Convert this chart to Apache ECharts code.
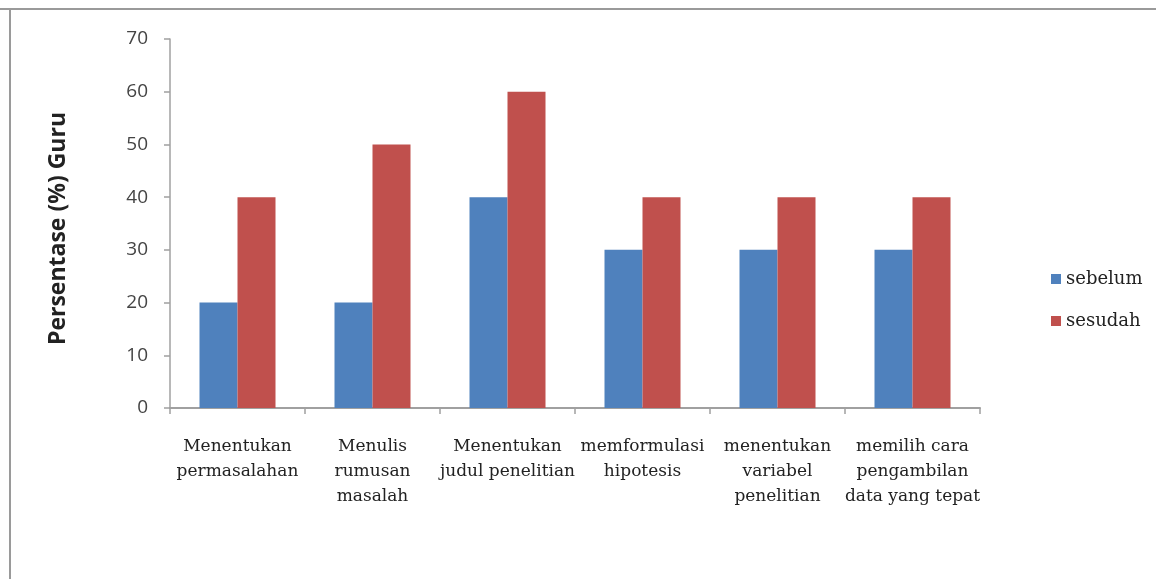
<!DOCTYPE html>
<html>
<head>
<meta charset="utf-8">
<script src="https://cdn.jsdelivr.net/npm/echarts@6/dist/echarts.min.js"></script>
<style>
  html, body { margin: 0; padding: 0; background: #fff; }
  #chart { width: 1156px; height: 579px; }
</style>
</head>
<body>
<div id="chart"></div>
<script>
// Tahapan kemampuan guru dalam menyusun penelitian
const categories = [
  'Menentukan\npermasalahan',
  'Menulis\nrumusan\nmasalah',
  'Menentukan\njudul penelitian',
  'memformulasi\nhipotesis',
  'menentukan\nvariabel\npenelitian',
  'memilih cara\npengambilan\ndata yang tepat'
];
const sebelum = [20, 20, 40, 30, 30, 30];
const sesudah = [40, 50, 60, 40, 40, 40];
const yTicks = { min: 0, max: 70, interval: 10 };

const chart = echarts.init(document.getElementById('chart'));
chart.setOption({
  backgroundColor: '#fff',
  animation: false,
  graphic: [
    { type: 'line', shape: { x1: 0, y1: 9, x2: 1156, y2: 9 }, style: { stroke: '#9a9a9a', lineWidth: 2 } },
    { type: 'line', shape: { x1: 10, y1: 9, x2: 10, y2: 579 }, style: { stroke: '#9a9a9a', lineWidth: 2 } }
  ],
  grid: { left: 170, right: 176, top: 39, bottom: 171, containLabel: false },
  legend: {
    orient: 'vertical',
    left: 1046,
    top: 265,
    itemWidth: 10,
    itemHeight: 10,
    itemGap: 24,
    icon: 'rect',
    textStyle: { fontFamily: 'DejaVu Serif', fontSize: 18, color: '#222' },
    data: ['sebelum', 'sesudah']
  },
  xAxis: {
    type: 'category',
    data: categories,
    axisLine: { lineStyle: { color: '#a0a0a0', width: 2 } },
    axisTick: { show: true, length: 6, lineStyle: { color: '#a0a0a0', width: 1.5 } },
    axisLabel: {
      interval: 0,
      margin: 26,
      fontFamily: 'DejaVu Serif',
      fontSize: 17,
      lineHeight: 25,
      color: '#222',
      align: 'center'
    }
  },
  yAxis: {
    type: 'value',
    min: yTicks.min,
    max: yTicks.max,
    interval: yTicks.interval,
    name: 'Persentase (%) Guru',
    nameLocation: 'middle',
    nameGap: 100,
    nameRotate: 90,
    nameMoveOverlap: false,
    nameTextStyle: { fontFamily: 'Open Sans', fontSize: 23, fontWeight: 'bold', color: '#222', padding: [0, 10, 0, 0] },
    axisLine: { show: true, lineStyle: { color: '#a0a0a0', width: 1.5 } },
    axisTick: { show: true, length: 6, lineStyle: { color: '#a0a0a0', width: 1.5 } },
    splitLine: { show: false },
    axisLabel: { margin: 22, fontFamily: 'Open Sans', fontSize: 19, color: '#444' }
  },
  series: [
    { name: 'sebelum', type: 'bar', data: sebelum, barWidth: 38, barGap: '0%', itemStyle: { color: '#4F81BD' } },
    { name: 'sesudah', type: 'bar', data: sesudah, barWidth: 38, barGap: '0%', itemStyle: { color: '#C0504D' } }
  ]
});
</script>
</body>
</html>
